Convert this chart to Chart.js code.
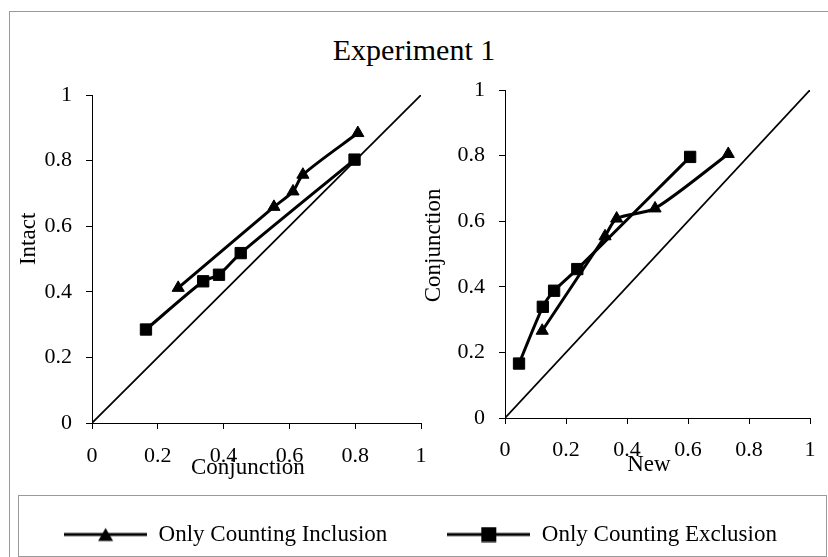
<!DOCTYPE html>
<html>
<head>
<meta charset="utf-8">
<script src="https://cdn.jsdelivr.net/npm/chart.js@4.4.1/dist/chart.umd.min.js"></script>
<style>
  html, body { margin: 0; padding: 0; background: #fff; }
  #page { position: relative; width: 828px; height: 557px; overflow: hidden; font-family: "Liberation Serif", "Times New Roman", serif; }
  #frame { position: absolute; left: 9px; top: 11px; width: 840px; height: 570px; border: 1px solid #9a9a9a; }
  #title { position: absolute; left: 0; top: 32px; width: 828px; text-align: center; font-size: 30px; line-height: 36px; color: #000; }
  #legendBox { position: absolute; left: 18px; top: 495px; width: 809px; height: 62px; border: 1px solid #9a9a9a; box-sizing: border-box; }
  canvas { position: absolute; }
</style>
</head>
<body>
<div id="page">
  <div id="frame"></div>
  <div id="title">Experiment 1</div>
  <div id="legendBox"></div>
  <canvas id="left" width="420" height="410" style="left:10px;top:80px"></canvas>
  <canvas id="right" width="400" height="415" style="left:420px;top:75px"></canvas>
  <canvas id="legend" width="881" height="200" style="left:-20px;top:463px"></canvas>
</div>
<script>
// axis ticks shared by both panels
const tickValues = [0, 0.2, 0.4, 0.6, 0.8, 1];
const tickLabels = ['0', '0.2', '0.4', '0.6', '0.8', '1'];
const seriesNames = ['Only Counting Inclusion', 'Only Counting Exclusion'];

// left panel: Conjunction (x) vs Intact (y)
const leftInclX = [0.262, 0.553, 0.611, 0.641, 0.808];
const leftInclY = [0.412, 0.659, 0.706, 0.757, 0.884];
const leftExclX = [0.164, 0.338, 0.386, 0.452, 0.798];
const leftExclY = [0.285, 0.432, 0.452, 0.518, 0.803];

// right panel: New (x) vs Conjunction (y)
const rightInclX = [0.122, 0.328, 0.366, 0.492, 0.732];
const rightInclY = [0.266, 0.554, 0.608, 0.639, 0.805];
const rightExclX = [0.046, 0.124, 0.161, 0.237, 0.607];
const rightExclY = [0.166, 0.339, 0.388, 0.454, 0.796];

// reference diagonal y = x
const diagX = [0, 1];
const diagY = [0, 1];

const FONT = '"Liberation Serif", "Times New Roman", serif';
const tickFont = { family: FONT, size: 22, lineHeight: 1.2 };
const titleFont = { family: FONT, size: 23, lineHeight: 1.2 };

const toPoints = (xs, ys) => xs.map((x, i) => ({ x: x, y: ys[i] }));

function makeDatasets(inclX, inclY, exclX, exclY) {
  return [
    {
      label: seriesNames[0],
      data: toPoints(inclX, inclY),
      showLine: true,
      borderColor: '#000',
      backgroundColor: '#000',
      borderWidth: 3,
      tension: 0.25,
      pointStyle: 'triangle',
      pointRadius: 7,
      pointBorderWidth: 1
    },
    {
      label: seriesNames[1],
      data: toPoints(exclX, exclY),
      showLine: true,
      borderColor: '#000',
      backgroundColor: '#000',
      borderWidth: 3,
      tension: 0.25,
      pointStyle: 'rect',
      pointRadius: 8,
      pointBorderWidth: 1
    },
    {
      label: 'diagonal',
      data: toPoints(diagX, diagY),
      showLine: true,
      borderColor: '#000',
      borderWidth: 1.75,
      pointRadius: 0,
      tension: 0
    }
  ];
}

function axis(title, titlePad, tickPad, sizeFn) {
  return {
    type: 'linear',
    min: 0,
    max: 1,
    afterBuildTicks: s => { s.ticks = tickValues.map(v => ({ value: v })); },
    afterFit: sizeFn,
    border: { display: true, color: '#000', width: 1 },
    grid: { drawOnChartArea: false, drawTicks: true, color: '#000', tickLength: 6 },
    ticks: {
      padding: tickPad,
      color: '#000',
      font: tickFont,
      maxRotation: 0,
      autoSkip: false,
      callback: (v, i) => tickLabels[i]
    },
    title: { display: true, text: title, color: '#000', font: titleFont, padding: titlePad }
  };
}

function panel(canvasId, data, o) {
  return new Chart(document.getElementById(canvasId), {
    type: 'scatter',
    data: { datasets: data },
    options: {
      responsive: false,
      animation: false,
      layout: { padding: o.pad },
      plugins: { legend: { display: false }, tooltip: { enabled: false } },
      scales: {
        x: axis(o.xTitle, { top: 0, bottom: o.xTitleBottom }, o.xTickPad, s => {
          s.height = o.xAxisH; s.paddingLeft = 0; s.paddingRight = 0;
        }),
        y: axis(o.yTitle, { top: o.yTitleTop, bottom: 0 }, 14, s => {
          s.width = o.yAxisW; s.paddingTop = 0; s.paddingBottom = 0;
        })
      }
    }
  });
}

panel('left', makeDatasets(leftInclX, leftInclY, leftExclX, leftExclY), {
  pad: { left: 0, top: 15, right: 9, bottom: 0 },
  xTitle: 'Conjunction   ', xTitleBottom: 8, xTickPad: 14, xAxisH: 67,
  yTitle: '       Intact', yTitleTop: 5, yAxisW: 82
});

panel('right', makeDatasets(rightInclX, rightInclY, rightExclX, rightExclY), {
  pad: { left: 0, top: 15, right: 10, bottom: 0 },
  xTitle: 'New   ', xTitleBottom: 11, xTickPad: 13, xAxisH: 72,
  yTitle: '   Conjunction', yTitleTop: 0, yAxisW: 85
});

// legend symbols: line with the marker in the middle
function legendSymbol(kind) {
  const c = document.createElement('canvas');
  c.width = 83;
  c.height = 16;
  const g = c.getContext('2d');
  g.fillStyle = '#000';
  g.fillRect(0, 6.5, 83, 3);
  if (kind === 'triangle') {
    g.beginPath();
    g.moveTo(41.5, 1.5);
    g.lineTo(49, 14.5);
    g.lineTo(34, 14.5);
    g.closePath();
    g.fill();
  } else {
    g.fillRect(34, 0.5, 15, 15);
  }
  return c;
}
const legendSymbols = [legendSymbol('triangle'), legendSymbol('rect')];

new Chart(document.getElementById('legend'), {
  type: 'scatter',
  data: { datasets: seriesNames.map(n => ({ label: n, data: [] })) },
  options: {
    responsive: false,
    animation: false,
    layout: { padding: 0 },
    scales: { x: { display: false }, y: { display: false } },
    plugins: {
      tooltip: { enabled: false },
      legend: {
        display: true,
        position: 'top',
        align: 'center',
        labels: {
          usePointStyle: true,
          pointStyleWidth: 83,
          padding: 60,
          color: '#000',
          font: { family: FONT, size: 23 },
          generateLabels: () => seriesNames.map((n, i) => ({
            text: n,
            pointStyle: legendSymbols[i],
            fillStyle: '#000',
            strokeStyle: '#000',
            lineWidth: 0,
            hidden: false,
            datasetIndex: i
          }))
        }
      }
    }
  }
});
</script>
</body>
</html>
